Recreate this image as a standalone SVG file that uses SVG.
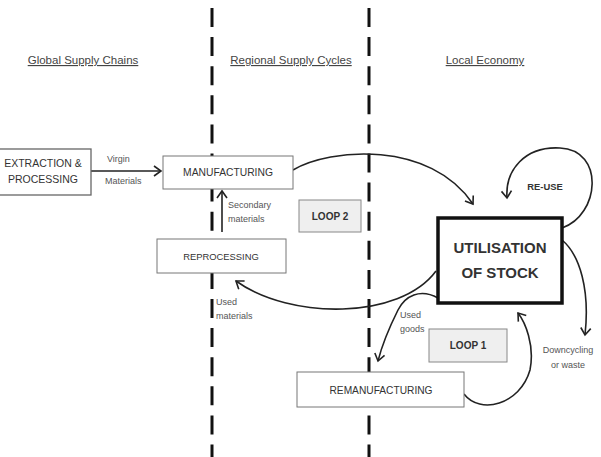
<svg xmlns="http://www.w3.org/2000/svg" width="601" height="457" viewBox="0 0 601 457">
<style>
text{font-family:"Liberation Sans",Arial,sans-serif;fill:#333}
.hdr{font-size:11.5px;text-decoration:underline;fill:#444}
.lbl{font-size:9px;fill:#555}
.box{fill:#fff;stroke:#777;stroke-width:1}
.loop{fill:#efefef;stroke:#888;stroke-width:1}
.bt{text-anchor:middle}
.div{stroke:#111;stroke-width:3;stroke-dasharray:19 10.1}
.con{fill:none;stroke:#222;stroke-width:1.6;marker-end:url(#arr)}
</style>
<defs>
<marker id="arr" markerUnits="userSpaceOnUse" viewBox="-9 -6 11 12" refX="0" refY="0" markerWidth="11" markerHeight="12" orient="auto">
<path d="M-7,-5 L0,0 L-7,5" fill="none" stroke="#222" stroke-width="1.6"/>
</marker>
</defs>
<rect width="601" height="457" fill="#fff"/>
<g id="dividers">
<line class="div" x1="212" y1="8" x2="212" y2="457"/>
<line class="div" x1="369" y1="8" x2="369" y2="457"/>
</g>
<g id="headers">
<text class="hdr bt" x="83" y="64">Global Supply Chains</text>
<text class="hdr bt" x="291" y="64">Regional Supply Cycles</text>
<text class="hdr bt" x="485" y="64">Local Economy</text>
</g>
<g id="connectors">
<line class="con" x1="91" y1="171" x2="161" y2="171"/>
<line class="con" x1="222" y1="232" x2="222" y2="191"/>
<path class="con" d="M293,170 C330,148 430,140 473,204"/>
<path class="con" d="M562,228 C600,215 605,150 560,148 C525,146 505,170 507,198"/>
<path class="con" d="M436,271 C400,320 290,320 236,281"/>
<path class="con" d="M438,298 C420,288 405,296 398,310 C390,326 382,345 378,361"/>
<path class="con" d="M464,394 C480,415 520,405 530,370 C535,345 525,322 518,313"/>
<path class="con" d="M562,240 C580,255 590,290 585,335"/>
</g>
<g id="connector-labels">
<text class="lbl" x="107" y="162">Virgin</text>
<text class="lbl" x="105" y="184">Materials</text>
<text class="lbl" x="228" y="208">Secondary</text>
<text class="lbl" x="228" y="222">materials</text>
<text class="lbl" x="216" y="305">Used</text>
<text class="lbl" x="216" y="319">materials</text>
<text class="lbl" x="400" y="318">Used</text>
<text class="lbl" x="400" y="332">goods</text>
<text class="lbl bt" x="568" y="353">Downcycling</text>
<text class="lbl bt" x="568" y="368">or waste</text>
</g>
<g id="extraction">
<rect x="-2" y="149" width="93" height="46" fill="#fff" stroke="#666" stroke-width="1.3"/>
<text class="bt" x="43" y="167" font-size="10.5">EXTRACTION &amp;</text>
<text class="bt" x="43" y="183" font-size="10.5">PROCESSING</text>
</g>
<g id="manufacturing">
<rect class="box" x="163" y="156" width="130" height="33"/>
<text class="bt" x="228" y="176" font-size="10.3">MANUFACTURING</text>
</g>
<g id="reprocessing">
<rect class="box" x="157" y="239" width="129" height="34"/>
<text class="bt" x="221" y="260" font-size="9.4">REPROCESSING</text>
</g>
<g id="loop2">
<rect class="loop" x="299" y="200" width="62" height="32"/>
<text class="bt" x="330" y="220" font-size="10" font-weight="bold">LOOP 2</text>
</g>
<g id="utilisation">
<rect x="438" y="218" width="124" height="85" fill="#fff" stroke="#111" stroke-width="3.5"/>
<text class="bt" x="500" y="253" font-size="15" font-weight="bold" fill="#111">UTILISATION</text>
<text class="bt" x="500" y="278" font-size="15" font-weight="bold" fill="#111">OF STOCK</text>
</g>
<g id="reuse">
<text class="bt" x="545" y="190" font-size="9.4" font-weight="bold">RE-USE</text>
</g>
<g id="loop1">
<rect class="loop" x="429" y="329" width="78" height="33"/>
<text class="bt" x="468" y="349" font-size="10" font-weight="bold">LOOP 1</text>
</g>
<g id="remanufacturing">
<rect class="box" x="297" y="372" width="167" height="35"/>
<text class="bt" x="381" y="393.5" font-size="10.2">REMANUFACTURING</text>
</g>
</svg>
